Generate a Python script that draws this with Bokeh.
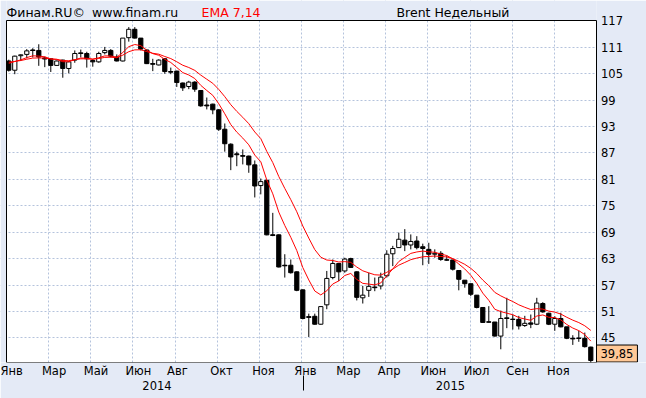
from bokeh.plotting import figure
from bokeh.models import Range1d, FixedTicker, Label, ColumnDataSource, LinearAxis
from bokeh.embed import file_html
from bokeh.resources import INLINE
from bokeh.core.properties import value

# ---- data (Brent, weekly candles) ----
opens = [107.9, 105.8, 109.1, 109.4, 110.4, 110.3, 108.6, 108.4, 106.9, 108.1,
         106.2, 108.1, 109.6, 109.6, 108.0, 107.7, 109.8, 110.3, 108.8, 107.9,
         113.2, 115.1, 113.1, 110.4, 107.3, 107.0, 108.4, 105.5, 105.6, 102.9,
         102.1, 103.1, 101.2, 97.9, 98.1, 96.8, 92.4, 89.0, 86.8, 86.4,
         86.3, 84.3, 79.6, 80.8, 68.4, 68.4, 61.5, 61.5, 60.0, 55.9,
         49.8, 49.9, 48.1, 52.5, 58.7, 61.9, 60.2, 63.0, 60.0, 54.1,
         55.8, 56.4, 56.8, 59.1, 64.1, 65.5, 67.2, 66.1, 67.0, 65.7,
         65.1, 64.0, 64.2, 62.7, 62.7, 60.3, 58.1, 57.3, 54.7, 51.9,
         48.6, 48.6, 45.4, 49.4, 49.2, 49.2, 47.8, 48.4, 48.1, 52.8,
         50.6, 48.1, 49.4, 47.5, 44.9, 44.9, 44.9, 42.9]
highs = [108.2, 109.1, 109.4, 110.6, 110.8, 111.7, 108.9, 108.5, 108.0, 108.2,
         107.9, 110.3, 110.5, 110.0, 108.3, 110.0, 111.1, 110.6, 109.4, 113.1,
         115.6, 115.6, 113.1, 110.5, 108.4, 108.3, 108.5, 106.4, 105.7, 103.0,
         103.4, 103.3, 101.3, 99.6, 98.2, 97.0, 93.7, 89.2, 87.3, 87.8,
         86.4, 85.3, 81.2, 80.8, 73.4, 68.5, 64.0, 62.8, 60.1, 56.0,
         50.5, 50.5, 52.2, 60.2, 62.8, 62.0, 63.2, 63.2, 60.1, 56.8,
         59.8, 58.7, 59.8, 64.9, 65.9, 68.9, 69.7, 68.5, 68.1, 66.4,
         66.6, 65.1, 64.7, 63.7, 62.7, 60.3, 58.1, 57.3, 54.7, 52.0,
         52.2, 48.6, 51.2, 54.1, 50.3, 50.0, 50.0, 50.3, 54.1, 53.1,
         50.7, 49.9, 50.7, 47.5, 45.6, 46.6, 46.2, 43.0]
lows = [105.5, 104.9, 107.9, 108.5, 108.7, 106.8, 106.5, 105.4, 106.8, 104.1,
        105.1, 107.5, 108.7, 106.4, 106.6, 107.5, 109.4, 108.7, 107.8, 107.8,
        112.3, 113.0, 110.3, 107.2, 105.6, 106.9, 105.0, 104.9, 102.0, 101.1,
        101.5, 100.9, 97.5, 96.9, 95.8, 92.0, 87.3, 83.1, 84.0, 84.4,
        82.5, 76.9, 77.6, 68.3, 68.1, 61.0, 58.7, 59.6, 55.6, 49.2,
        45.2, 48.0, 48.0, 51.5, 58.3, 57.9, 59.8, 60.9, 53.5, 52.8,
        54.3, 55.6, 56.0, 58.7, 61.3, 65.5, 64.7, 65.1, 65.1, 61.5,
        61.8, 63.2, 62.5, 62.5, 60.3, 55.8, 56.4, 54.5, 51.7, 48.4,
        48.5, 45.3, 42.4, 47.2, 46.9, 46.9, 47.5, 47.2, 47.9, 50.7,
        47.9, 46.6, 47.4, 44.7, 43.4, 44.1, 42.8, 39.4]
closes = [105.8, 109.0, 109.3, 110.2, 110.3, 108.8, 108.4, 106.9, 107.9, 106.2,
          107.7, 109.6, 109.7, 108.4, 107.7, 109.6, 110.3, 109.0, 107.9, 113.1,
          115.1, 113.1, 110.6, 107.3, 107.2, 108.1, 105.5, 105.4, 103.0, 101.8,
          103.1, 101.5, 97.7, 97.7, 96.8, 92.4, 89.1, 86.1, 86.6, 86.3,
          84.3, 79.5, 80.5, 68.4, 68.3, 61.1, 61.4, 59.8, 55.8, 49.4,
          49.7, 48.1, 52.1, 58.5, 61.9, 60.0, 62.9, 61.0, 54.2, 54.7,
          56.7, 56.5, 58.8, 64.0, 65.3, 67.4, 66.1, 66.9, 65.5, 65.3,
          64.0, 64.2, 62.8, 62.7, 60.6, 58.3, 57.3, 54.9, 51.9, 48.5,
          48.6, 45.4, 49.4, 49.5, 49.2, 47.7, 48.3, 48.1, 52.9, 50.9,
          48.1, 49.4, 47.5, 44.9, 44.8, 44.9, 43.0, 39.85]

ema_periods = [7, 14]
y_ticks = [45, 51, 57, 63, 69, 75, 81, 87, 93, 99, 105, 111, 117]
month_labels = ["Янв", "Мар", "Май", "Июн", "Авг", "Окт", "Ноя",
                "Янв", "Мар", "Апр", "Июн", "Июл", "Сен", "Ноя"]
month_weeks = [-0.35, 7.55, 14.55, 21.6, 28.1, 35.45, 42.45,
               49.45, 56.6, 63.4, 70.75, 77.95, 84.8, 91.6]
year_labels = ["2014", "2015"]
year_weeks = [24.7, 73.6]
year_split_week = 49.1
header = [("Финам.RU©", "#000000"), ("www.finam.ru", "#000000"),
          ("EMA 7,14", "#FF0000"), ("Brent Недельный", "#000000")]

# ---- layout constants ----
W, H = 646, 398
PL, PR, PT, PB = 6, 596, 20, 362          # plot-area box in pixels
X0, X1 = -0.38, 97.95                      # plot-area x extent (weeks)
Y0, Y1 = 39.4, 117.1                       # plot-area y extent (price)
ux = (PR - PL) / (X1 - X0)
uy = (PB - PT) / (Y1 - Y0)
XL, XR = X0 - PL / ux, X1 + (W - PR) / ux
YT = Y1 + PT / uy
FONT = "DejaVu Sans"
BG = "#E4EAF6"
FS = "11.5px"
FS_HDR = "12.5px"
header_px = [6, 91.5, 201, 396]

# ---- derived ----
n = len(closes)
weeks = list(range(n))


def ema(vals, period, seed):
    k = 2.0 / (period + 1)
    out, e = [], seed
    for v in vals:
        e = e + k * (v - e)
        out.append(e)
    return out


up = [c >= o for o, c in zip(opens, closes)]
src = ColumnDataSource(dict(
    x=weeks,
    top=[max(o, c) for o, c in zip(opens, closes)],
    bottom=[min(o, c) for o, c in zip(opens, closes)],
    high=highs, low=lows,
    fill=["#FFFFFF" if u else "#000000" for u in up],
))
doji_x = [i for i in weeks if abs(opens[i] - closes[i]) < 0.2]
doji_y = [closes[i] for i in doji_x]

p = figure(width=W, height=H, output_backend="svg", toolbar_location=None,
           x_range=Range1d(XL, XR), y_range=Range1d(Y0, YT),
           y_axis_location=None,
           min_border_left=0, min_border_right=0, min_border_top=0,
           min_border_bottom=H - PB)
p.background_fill_color = "#FFFFFF"
p.border_fill_color = BG
p.outline_line_color = None

# grid
p.xgrid.ticker = FixedTicker(ticks=[X0 + k * (X1 - X0) / 14 for k in range(1, 14)])
p.ygrid.ticker = FixedTicker(ticks=y_ticks[:-1])
for g in (p.xgrid, p.ygrid):
    g.grid_line_color = "#B4C3DC"
    g.grid_line_dash = "2 2"
    g.grid_line_width = 1

# background strips outside the plot area (hide grid there)
p.quad(left=[XL, X1, X0], right=[X0, XR, X1], bottom=[Y0, Y0, Y1], top=[YT, YT, YT],
       fill_color=BG, line_color=None)
# plot-area frame
p.quad(left=[X0], right=[X1], bottom=[Y0], top=[Y1], fill_color=None,
       line_color="#000000", line_width=1)

# x axis (months)
p.xaxis.ticker = FixedTicker(ticks=month_weeks)
p.xaxis.major_label_overrides = {w: m for w, m in zip(month_weeks, month_labels)}
p.xaxis.major_tick_line_color = None
p.xaxis.major_tick_out = 0
p.xaxis.major_tick_in = 0
p.xaxis.minor_tick_line_color = None
p.xaxis.minor_tick_out = 0
p.xaxis.minor_tick_in = 0
p.xaxis.axis_line_color = None
p.xaxis.major_label_standoff = 1
p.xaxis.major_label_text_font = FONT
p.xaxis.major_label_text_font_size = FS
p.xaxis.major_label_text_color = "#000000"

# second axis: years, with divider tick
yax = LinearAxis(ticker=FixedTicker(ticks=year_weeks, minor_ticks=[year_split_week]))
yax.major_label_overrides = {w: t for w, t in zip(year_weeks, year_labels)}
yax.major_tick_line_color = None
yax.major_tick_out = 0
yax.major_tick_in = 0
yax.minor_tick_line_color = "#000000"
yax.minor_tick_in = 5
yax.minor_tick_out = 10
yax.axis_line_color = None
yax.major_label_standoff = -10
yax.major_label_text_font = FONT
yax.major_label_text_font_size = FS
yax.major_label_text_color = "#000000"
p.add_layout(yax, "below")

# candles
p.segment(x0="x", y0="low", x1="x", y1="high", source=src,
          line_color="#000000", line_width=1)
p.vbar(x="x", top="top", bottom="bottom", width=0.7, source=src,
       fill_color="fill", line_color="#000000", line_width=1)
p.segment(x0=[x - 0.4 for x in doji_x], y0=doji_y,
          x1=[x + 0.4 for x in doji_x], y1=doji_y,
          line_color="#000000", line_width=1)

# EMA lines
for per in ema_periods:
    p.line(weeks, ema(closes, per, opens[0]), line_color="#FF0000", line_width=1)

# price scale labels (right side)
p.text(x=[X1] * len(y_ticks), y=y_ticks, text=[str(t) for t in y_ticks],
       x_offset=4.5, text_font=value(FONT), text_font_size=value(FS),
       text_color="#000000", text_align="left", text_baseline="middle")

# header texts
for (txt, col), sx in zip(header, header_px):
    p.add_layout(Label(x=sx, y=PB - 11.5, x_units="screen", y_units="screen", text=txt,
                       text_font=FONT, text_font_size=FS_HDR, text_color=col,
                       text_align="left", text_baseline="middle"))

# last price box
last_txt = f"{closes[-1]:.2f}".replace(".", ",")
p.add_layout(Label(x=X1, y=closes[-1], y_offset=7, text=last_txt,
                   text_font=FONT, text_font_size=FS, text_color="#000000",
                   text_align="left", text_baseline="middle",
                   background_fill_color="#FFC896", border_line_color="#000000",
                   border_line_width=1, padding=4))

open("out.html", "w").write(file_html(p, INLINE))
